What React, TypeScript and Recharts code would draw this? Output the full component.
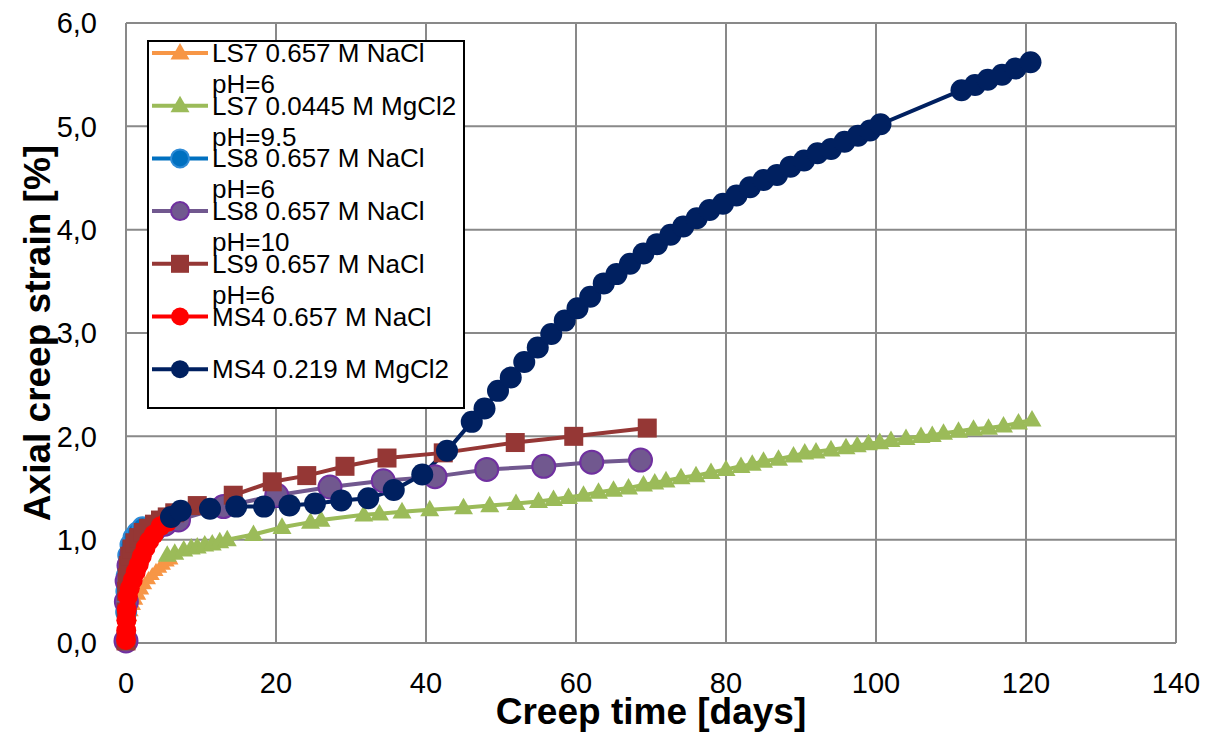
import React from "react";
import { LineChart, Line, XAxis, YAxis, CartesianGrid, Legend, Label } from "recharts";

// LS7, 0.657 M NaCl, pH=6
const ls7NaclDays = [0, 0.05, 0.1, 0.2, 0.3, 0.5, 0.7, 1.0, 1.3, 1.7, 2.1, 2.5, 3.0, 3.5, 4.0, 4.5, 5.0, 5.5, 6.0];
const ls7NaclStrain = [0.0, 0.05, 0.1, 0.16, 0.2, 0.26, 0.31, 0.37, 0.42, 0.47, 0.52, 0.57, 0.62, 0.66, 0.7, 0.73, 0.76, 0.79, 0.81];

// LS7, 0.0445 M MgCl2, pH=9.5
const ls7MgDays = [
  5.5, 6.5, 7.7, 8.7, 9.5, 10.5, 11.5, 12.5, 13.5, 17.0, 20.8, 24.6, 26.0, 31.7, 33.8, 36.8, 40.5, 45.0,
  48.5, 52.0, 55.0, 57.0, 59.0, 61.0, 63.0, 65.0, 67.0, 69.0, 70.5, 72.0, 74.0, 76.0, 78.0, 80.0, 82.0,
  83.5, 85.0, 87.0, 89.0, 90.5, 92.0, 94.0, 96.0, 97.5, 99.0, 100.5, 102.0, 104.0, 106.0, 107.5, 109.0,
  111.0, 113.0, 115.0, 117.0, 119.0, 120.8,
];
const ls7MgStrain = [
  0.85, 0.87, 0.9, 0.92, 0.93, 0.95, 0.96, 0.98, 1.0, 1.05, 1.12, 1.17, 1.19, 1.24, 1.25, 1.27, 1.29, 1.31,
  1.33, 1.35, 1.37, 1.39, 1.41, 1.43, 1.46, 1.48, 1.5, 1.53, 1.55, 1.57, 1.6, 1.62, 1.65, 1.68, 1.71,
  1.73, 1.76, 1.78, 1.81, 1.84, 1.85, 1.87, 1.89, 1.91, 1.93, 1.94, 1.96, 1.98, 2.0, 2.01, 2.03,
  2.05, 2.07, 2.08, 2.1, 2.13, 2.16,
];

// LS8, 0.657 M NaCl, pH=6
const ls8Ph6Days = [0, 0.02, 0.05, 0.1, 0.3, 0.6, 1.0, 1.5, 2.2];
const ls8Ph6Strain = [0.02, 0.3, 0.5, 0.65, 0.85, 0.95, 1.02, 1.07, 1.12];

// LS8, 0.657 M NaCl, pH=10
const ls8Ph10Days = [0, 0.05, 0.15, 0.4, 0.8, 1.5, 2.5, 3.8, 5.2, 7.0, 13.0, 20.1, 27.2, 34.3, 41.2, 48.1, 55.7, 62.1, 68.6];
const ls8Ph10Strain = [0.02, 0.4, 0.6, 0.75, 0.86, 0.96, 1.04, 1.1, 1.15, 1.19, 1.32, 1.43, 1.51, 1.57, 1.61, 1.68, 1.71, 1.75, 1.77];

// LS9, 0.657 M NaCl, pH=6
const ls9Days = [0, 0.03, 0.08, 0.15, 0.3, 0.5, 0.8, 1.2, 1.7, 2.3, 3.0, 3.8, 4.6, 5.5, 6.5, 9.5, 14.3, 19.5, 24.1, 29.2, 34.8, 42.3, 51.9, 59.7, 69.5];
const ls9Strain = [0.02, 0.3, 0.5, 0.63, 0.75, 0.84, 0.91, 0.97, 1.02, 1.07, 1.11, 1.15, 1.19, 1.22, 1.26, 1.33, 1.43, 1.56, 1.62, 1.71, 1.79, 1.84, 1.94, 2.0, 2.08];

// MS4, 0.657 M NaCl
const ms4NaclDays = [0, 0.03, 0.06, 0.1, 0.25, 0.5, 0.9, 1.3, 1.7, 2.1, 2.6, 3.1, 3.7, 4.6, 5.5];
const ms4NaclStrain = [0.03, 0.12, 0.22, 0.32, 0.45, 0.53, 0.61, 0.69, 0.76, 0.84, 0.92, 0.99, 1.05, 1.13, 1.17];

// MS4, 0.219 M MgCl2
const ms4MgDays = [
  6.0, 7.3, 11.2, 14.7, 18.4, 21.8, 25.2, 28.7, 32.3, 35.7, 39.5, 42.8, 46.1, 47.8, 49.6, 51.3, 53.1, 54.9,
  56.7, 58.5, 60.2, 61.9, 63.7, 65.4, 67.2, 69.0, 70.8, 72.6, 74.3, 76.1, 77.8, 79.6, 81.4, 83.2, 85.0, 86.8,
  88.6, 90.4, 92.2, 94.0, 95.8, 97.6, 99.2, 100.6, 111.4, 113.2, 114.9, 116.8, 118.6, 120.6,
];
const ms4MgStrain = [
  1.22, 1.28, 1.3, 1.32, 1.32, 1.33, 1.35, 1.38, 1.4, 1.48, 1.63, 1.86, 2.14, 2.27, 2.44, 2.57, 2.72, 2.86,
  2.99, 3.12, 3.24, 3.35, 3.48, 3.57, 3.67, 3.77, 3.86, 3.95, 4.03, 4.11, 4.19, 4.25, 4.33, 4.41, 4.48, 4.53,
  4.61, 4.67, 4.74, 4.78, 4.85, 4.91, 4.96, 5.02, 5.35, 5.4, 5.45, 5.5, 5.56, 5.62,
];

const xTicks = [0, 20, 40, 60, 80, 100, 120, 140];
const yTicks = [0, 1, 2, 3, 4, 5, 6];

type Pt = { x: number; y: number };
type Kind = "triangle" | "circle" | "square";

const zip = (days: number[], strain: number[]): Pt[] => days.map((d, i) => ({ x: d, y: strain[i] }));

interface SeriesDef {
  label: string;
  sub?: string;
  color: string;
  kind: Kind;
  size: number;
  fill: string;
  border?: string;
  data: Pt[];
}

const series: SeriesDef[] = [
  { label: "LS7 0.657 M NaCl", sub: "pH=6", color: "#F79646", kind: "triangle", size: 15, fill: "#F79646", data: zip(ls7NaclDays, ls7NaclStrain) },
  { label: "LS7 0.0445 M MgCl2", sub: "pH=9.5", color: "#9BBB59", kind: "triangle", size: 19, fill: "#9BBB59", data: zip(ls7MgDays, ls7MgStrain) },
  { label: "LS8 0.657 M NaCl", sub: "pH=6", color: "#0070C0", kind: "circle", size: 20, fill: "#0070C0", border: "#2E8BD6", data: zip(ls8Ph6Days, ls8Ph6Strain) },
  { label: "LS8 0.657 M NaCl", sub: "pH=10", color: "#71588F", kind: "circle", size: 23, fill: "#71588F", border: "#7030A0", data: zip(ls8Ph10Days, ls8Ph10Strain) },
  { label: "LS9 0.657 M NaCl", sub: "pH=6", color: "#953735", kind: "square", size: 19, fill: "#953735", data: zip(ls9Days, ls9Strain) },
  { label: "MS4 0.657 M NaCl", color: "#FF0000", kind: "circle", size: 20, fill: "#FF0000", data: zip(ms4NaclDays, ms4NaclStrain) },
  { label: "MS4 0.219 M MgCl2", color: "#002060", kind: "circle", size: 22, fill: "#002060", data: zip(ms4MgDays, ms4MgStrain) },
];

const FONT = "'Liberation Sans', Arial, sans-serif";
const GRID = "#898989";

const Marker = ({ cx, cy, kind, size, fill, border }: { cx?: number; cy?: number; kind: Kind; size: number; fill: string; border?: string }) => {
  if (cx == null || cy == null) return null;
  const h = size / 2;
  if (kind === "triangle") {
    const t = size * 0.87;
    return <polygon points={`${cx},${cy - t * 0.6} ${cx + h},${cy + t * 0.4} ${cx - h},${cy + t * 0.4}`} fill={fill} />;
  }
  if (kind === "square") return <rect x={cx - h} y={cy - h} width={size} height={size} fill={fill} />;
  return <circle cx={cx} cy={cy} r={h} fill={fill} stroke={border || "none"} strokeWidth={border ? 2 : 0} />;
};

const LegendBox = () => (
  <svg width={318} height={369} style={{ display: "block", overflow: "visible" }}>
    <rect x={1} y={1} width={316} height={367} fill="#fff" stroke="#000" strokeWidth={2} />
    {series.map((s, i) => {
      const cy = 13 + i * 52.7;
      return (
        <g key={i}>
          <line x1={5} x2={61} y1={cy} y2={cy} stroke={s.color} strokeWidth={4} />
          <Marker cx={33} cy={cy} kind={s.kind} size={s.kind === "triangle" ? 19 : 18} fill={s.fill} border={s.border} />
          <text x={65} y={cy + 9} fontSize={26} fontFamily={FONT} fill="#000">
            {s.label}
          </text>
          {s.sub && (
            <text x={65} y={cy + 40} fontSize={26} fontFamily={FONT} fill="#000">
              {s.sub}
            </text>
          )}
        </g>
      );
    })}
  </svg>
);

const XTitle = (props: any) => {
  const { x, width } = props.viewBox;
  return (
    <text x={x + width / 2} y={724} textAnchor="middle" fontSize={37} fontWeight="bold" fontFamily={FONT} fill="#000">
      Creep time [days]
    </text>
  );
};

const YTitle = (props: any) => {
  const { y, height } = props.viewBox;
  const cy = y + height / 2;
  return (
    <text x={50} y={cy} transform={`rotate(-90, 50, ${cy})`} textAnchor="middle" fontSize={37} fontWeight="bold" fontFamily={FONT} fill="#000">
      Axial creep strain [%]
    </text>
  );
};

const App: React.FC = () => {
  return (
    <div style={{ position: "absolute", left: 0, top: 0, width: 1209, height: 744, background: "#fff" }}>
      <LineChart width={1209} height={744} margin={{ top: 23, right: 33, bottom: 0, left: 0 }}>
        <CartesianGrid stroke={GRID} strokeWidth={2} />
        <XAxis
          type="number"
          dataKey="x"
          domain={[0, 140]}
          ticks={xTicks}
          height={101}
          tickLine={false}
          tickSize={0}
          tickMargin={29}
          axisLine={{ stroke: GRID, strokeWidth: 2 }}
          tick={{ fontSize: 29, fill: "#000", fontFamily: FONT }}
        >
          <Label content={XTitle} />
        </XAxis>
        <YAxis
          type="number"
          dataKey="y"
          domain={[0, 6]}
          ticks={yTicks}
          width={126}
          tickLine={false}
          tickSize={0}
          tickMargin={29}
          axisLine={{ stroke: GRID, strokeWidth: 2 }}
          tick={{ fontSize: 29, fill: "#000", fontFamily: FONT }}
          tickFormatter={(v: number) => v.toFixed(1).replace(".", ",")}
        >
          <Label content={YTitle} />
        </YAxis>
        {series.map((s, si) => (
          <Line
            key={si}
            data={s.data}
            dataKey="y"
            name={`${s.label} ${s.sub || ""}`}
            type="linear"
            stroke={s.color}
            strokeWidth={4}
            isAnimationActive={false}
            activeDot={false}
            dot={(p: any) => (
              <Marker key={`${si}-${p.index}`} cx={p.cx} cy={p.cy} kind={s.kind} size={s.size} fill={s.fill} border={s.border} />
            )}
          />
        ))}
        <Legend
          layout="vertical"
          align="center"
          verticalAlign="middle"
          wrapperStyle={{ left: 147, top: 40, width: 318, height: 369 }}
          content={() => <LegendBox />}
        />
      </LineChart>
    </div>
  );
};

export default App;
